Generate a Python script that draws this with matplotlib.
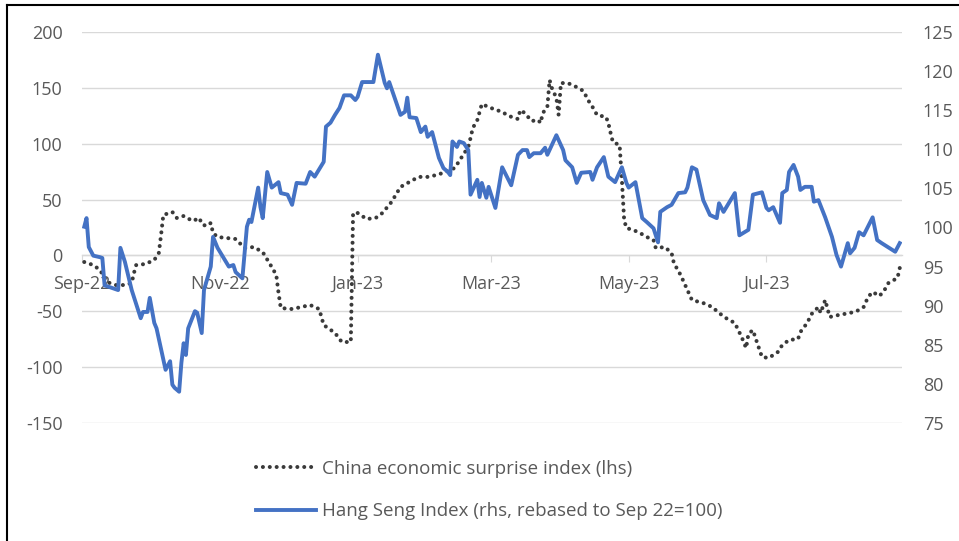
import numpy as np
import pandas as pd
import matplotlib
matplotlib.use("Agg")
import matplotlib.pyplot as plt
import matplotlib.dates as mdates
from matplotlib.lines import Line2D

plt.rcParams['font.family'] = ['Open Sans', 'DejaVu Sans']
plt.rcParams['axes.unicode_minus'] = False

start = pd.Timestamp("2022-09-01")

# Hang Seng Index, rebased (right axis) - day offsets from 1 Sep 2022
hsi_day = [1, 2, 3, 5, 8, 9, 10, 13, 16, 17, 19, 22, 26, 27, 29, 30, 32, 33, 37, 39,
           40, 41, 43, 44, 45, 46, 47, 50, 51, 53, 54, 57, 58, 60, 65, 67, 68, 71, 73, 74,
           75, 78, 79, 80, 82, 84, 87, 88, 91, 93, 95, 99, 101, 103, 107, 108, 110, 112, 114, 116,
           119, 121, 122, 124, 129, 131, 134, 135, 136, 141, 143, 144, 145, 148, 150, 152, 153, 155, 158, 160,
           162, 163, 164, 166, 167, 169, 171, 172, 175, 176, 177, 179, 180, 183, 186, 190, 193, 195, 197, 198,
           200, 203, 205, 206, 210, 213, 214, 217, 219, 221, 225, 226, 228, 231, 233, 236, 238, 239, 241, 242,
           245, 248, 250, 253, 255, 256, 259, 261, 264, 267, 268, 270, 272, 275, 278, 281, 282, 284, 289, 291,
           295, 297, 301, 303, 304, 306, 309, 310, 312, 313, 315, 317, 318, 320, 323, 324, 326, 329, 332, 334,
           336, 339, 340, 342, 344, 346, 350, 352, 354, 360, 362]
hsi_val = [100.1, 101.2, 97.5, 96.4, 96.2, 96.1, 92.6, 92.3, 92.0, 97.4, 95.6, 92.0, 88.4, 89.2, 89.2, 91.0, 87.8, 87.1, 81.8, 82.9,
           79.9, 79.5, 79.0, 82.7, 85.2, 83.7, 87.1, 89.3, 89.1, 86.5, 92.0, 95.0, 98.8, 97.4, 95.0, 95.2, 94.3, 93.5, 100.1, 101.0,
           100.7, 105.1, 102.6, 101.2, 107.1, 105.1, 105.8, 104.4, 104.2, 102.9, 105.7, 105.6, 107.1, 106.5, 108.4, 112.9, 113.4, 114.4, 115.3, 116.9,
           116.9, 116.3, 116.7, 118.6, 118.6, 122.1, 118.5, 117.8, 118.6, 114.4, 114.8, 116.6, 114.1, 114.0, 112.2, 112.9, 111.6, 112.2, 108.9, 107.6,
           107.1, 106.7, 111.0, 110.3, 111.0, 110.8, 109.9, 104.2, 106.1, 103.9, 105.7, 103.8, 105.2, 102.5, 107.7, 105.4, 109.3, 109.9, 109.9, 109.0,
           109.5, 109.5, 110.2, 109.3, 111.8, 109.9, 108.6, 107.7, 105.7, 107.0, 107.1, 106.1, 107.7, 109.0, 106.5, 105.8, 107.1, 107.7, 105.7, 105.1,
           105.8, 101.2, 100.7, 99.9, 98.1, 102.0, 102.6, 102.9, 104.4, 104.5, 105.1, 107.7, 107.4, 103.5, 101.6, 101.2, 103.1, 102.0, 104.4, 99.0,
           99.7, 104.2, 104.5, 102.5, 102.2, 102.6, 100.6, 104.4, 104.8, 107.1, 108.0, 106.5, 104.8, 105.2, 105.2, 103.3, 103.5, 101.3, 98.8, 96.5,
           95.0, 98.0, 96.7, 97.4, 99.4, 99.0, 101.3, 98.4, 98.0, 96.9, 98.0]

# China economic surprise index (left axis)
cesi_day = [1, 5, 8, 11, 15, 19, 22, 23, 24, 28, 32, 34, 35, 36, 40, 42, 45, 49, 52, 53,
            55, 57, 58, 60, 64, 68, 72, 76, 80, 84, 86, 87, 88, 93, 101, 105, 107, 112, 115, 119,
            120, 122, 126, 130, 133, 137, 141, 145, 149, 153, 157, 161, 165, 171, 172, 173, 175, 177, 181, 186,
            189, 193, 194, 196, 199, 202, 203, 204, 206, 207, 208, 210, 211, 212, 215, 218, 222, 224, 226, 228,
            232, 233, 234, 235, 238, 239, 240, 241, 244, 247, 250, 253, 254, 258, 261, 262, 265, 268, 270, 275,
            279, 282, 285, 289, 292, 294, 295, 297, 298, 301, 304, 308, 310, 313, 317, 318, 321, 323, 326, 327,
            329, 331, 335, 340, 343, 346, 348, 350, 353, 355, 357, 361, 362]
cesi_val = [-5.9, -8.6, -13.1, -23.8, -26.5, -26.5, -24.7, -15.7, -8.6, -7.7, -4.1, 2.2, 18.3, 36.2, 38.9, 33.5, 35.3, 30.8, 33.5, 28.1,
            26.3, 29.0, 20.1, 16.5, 15.6, 14.7, 6.6, 7.5, 3.0, -10.4, -17.5, -33.6, -47.1, -48.0, -44.4, -48.0, -62.3, -69.4, -77.5, -77.5,
            38.0, 38.0, 32.6, 33.5, 38.0, 47.8, 61.3, 65.8, 70.3, 70.3, 72.0, 74.7, 78.3, 97.1, 105.1, 114.1, 121.2, 135.5, 132.0, 128.4,
            124.8, 122.1, 130.1, 127.5, 120.3, 121.2, 118.5, 127.5, 132.9, 157.0, 149.9, 140.9, 125.7, 154.3, 154.3, 151.7, 147.2, 139.1, 132.9, 125.7,
            123.9, 118.5, 109.6, 101.5, 98.8, 67.5, 31.7, 24.5, 22.8, 20.1, 16.5, 13.8, 6.6, 7.5, 2.2, -6.8, -17.5, -31.0, -39.9, -42.6,
            -46.2, -51.5, -56.0, -60.5, -73.0, -82.9, -70.3, -66.8, -73.0, -90.9, -91.8, -86.5, -80.2, -75.7, -74.8, -68.6, -60.5, -52.4, -46.2, -51.5,
            -39.9, -55.1, -53.3, -51.5, -49.8, -46.2, -37.2, -32.7, -36.3, -31.9, -24.7, -20.2, -11.3]

left_ticks = [-150, -100, -50, 0, 50, 100, 150, 200]
right_ticks = [75, 80, 85, 90, 95, 100, 105, 110, 115, 120, 125]
month_ticks = ["2022-09-01", "2022-11-01", "2023-01-01", "2023-03-01", "2023-05-01", "2023-07-01"]

hsi_dates = start + pd.to_timedelta(hsi_day, unit="D")
cesi_dates = start + pd.to_timedelta(cesi_day, unit="D")

txt = "#595959"
grid = "#d9d9d9"
fs = 13
legend_fs = 13.5

fig = plt.figure(figsize=(9.59, 5.41), dpi=100)
ax = fig.add_axes([82 / 959, 1 - 423 / 541, (902 - 82) / 959, (423 - 32) / 541])
ax2 = ax.twinx()

ax.plot(cesi_dates, cesi_val, color="#3a3a3a", lw=2.9, ls=(0, (0.01, 1.7)),
        dash_capstyle="round", label="China economic surprise index (lhs)", zorder=3)
ax2.plot(hsi_dates, hsi_val, color="#4472C4", lw=2.8, solid_joinstyle="round",
         label="Hang Seng Index (rhs, rebased to Sep 22=100)", zorder=3)

ax.set_ylim(-150, 200)
ax2.set_ylim(75, 125)
ax.set_xlim(start, start + pd.Timedelta(days=363))
ax.set_yticks(left_ticks)
ax2.set_yticks(right_ticks)

for a in (ax, ax2):
    for s in a.spines.values():
        s.set_visible(False)
# the date axis sits on the zero line
ax.spines["bottom"].set_visible(True)
ax.spines["bottom"].set_position(("data", 0))
ax.spines["bottom"].set_color(grid)
ax.spines["bottom"].set_linewidth(1)

ax.yaxis.grid(True, color=grid, lw=1)
ax.set_axisbelow(True)

ax.set_xticks(pd.to_datetime(month_ticks))
ax.xaxis.set_major_formatter(mdates.DateFormatter("%b-%y"))
ax.tick_params(axis="x", length=5, color=grid, labelcolor=txt, labelsize=fs, pad=9)
ax.tick_params(axis="y", length=0, labelsize=fs, labelcolor=txt, pad=14)
ax2.tick_params(axis="y", length=0, labelsize=fs, labelcolor=txt, pad=15)

# legend under the plot
h1, l1 = ax.get_legend_handles_labels()
h2, l2 = ax2.get_legend_handles_labels()
fig.legend(h1 + h2, l1 + l2, loc="center left", bbox_to_anchor=(256 / 959, 1 - 490 / 541),
           frameon=False, handlelength=3.2, handletextpad=0.3, labelspacing=1.3,
           borderpad=0, borderaxespad=0, prop={"size": legend_fs}, labelcolor=txt)

# frame lines along the top and left edges
fig.add_artist(Line2D([7 / 959, 7 / 959], [0, 1 - 5 / 541], transform=fig.transFigure, color="black", lw=1.5))
fig.add_artist(Line2D([7 / 959, 1], [1 - 5 / 541, 1 - 5 / 541], transform=fig.transFigure, color="black", lw=1.5))

fig.savefig("out.png", dpi=100)
